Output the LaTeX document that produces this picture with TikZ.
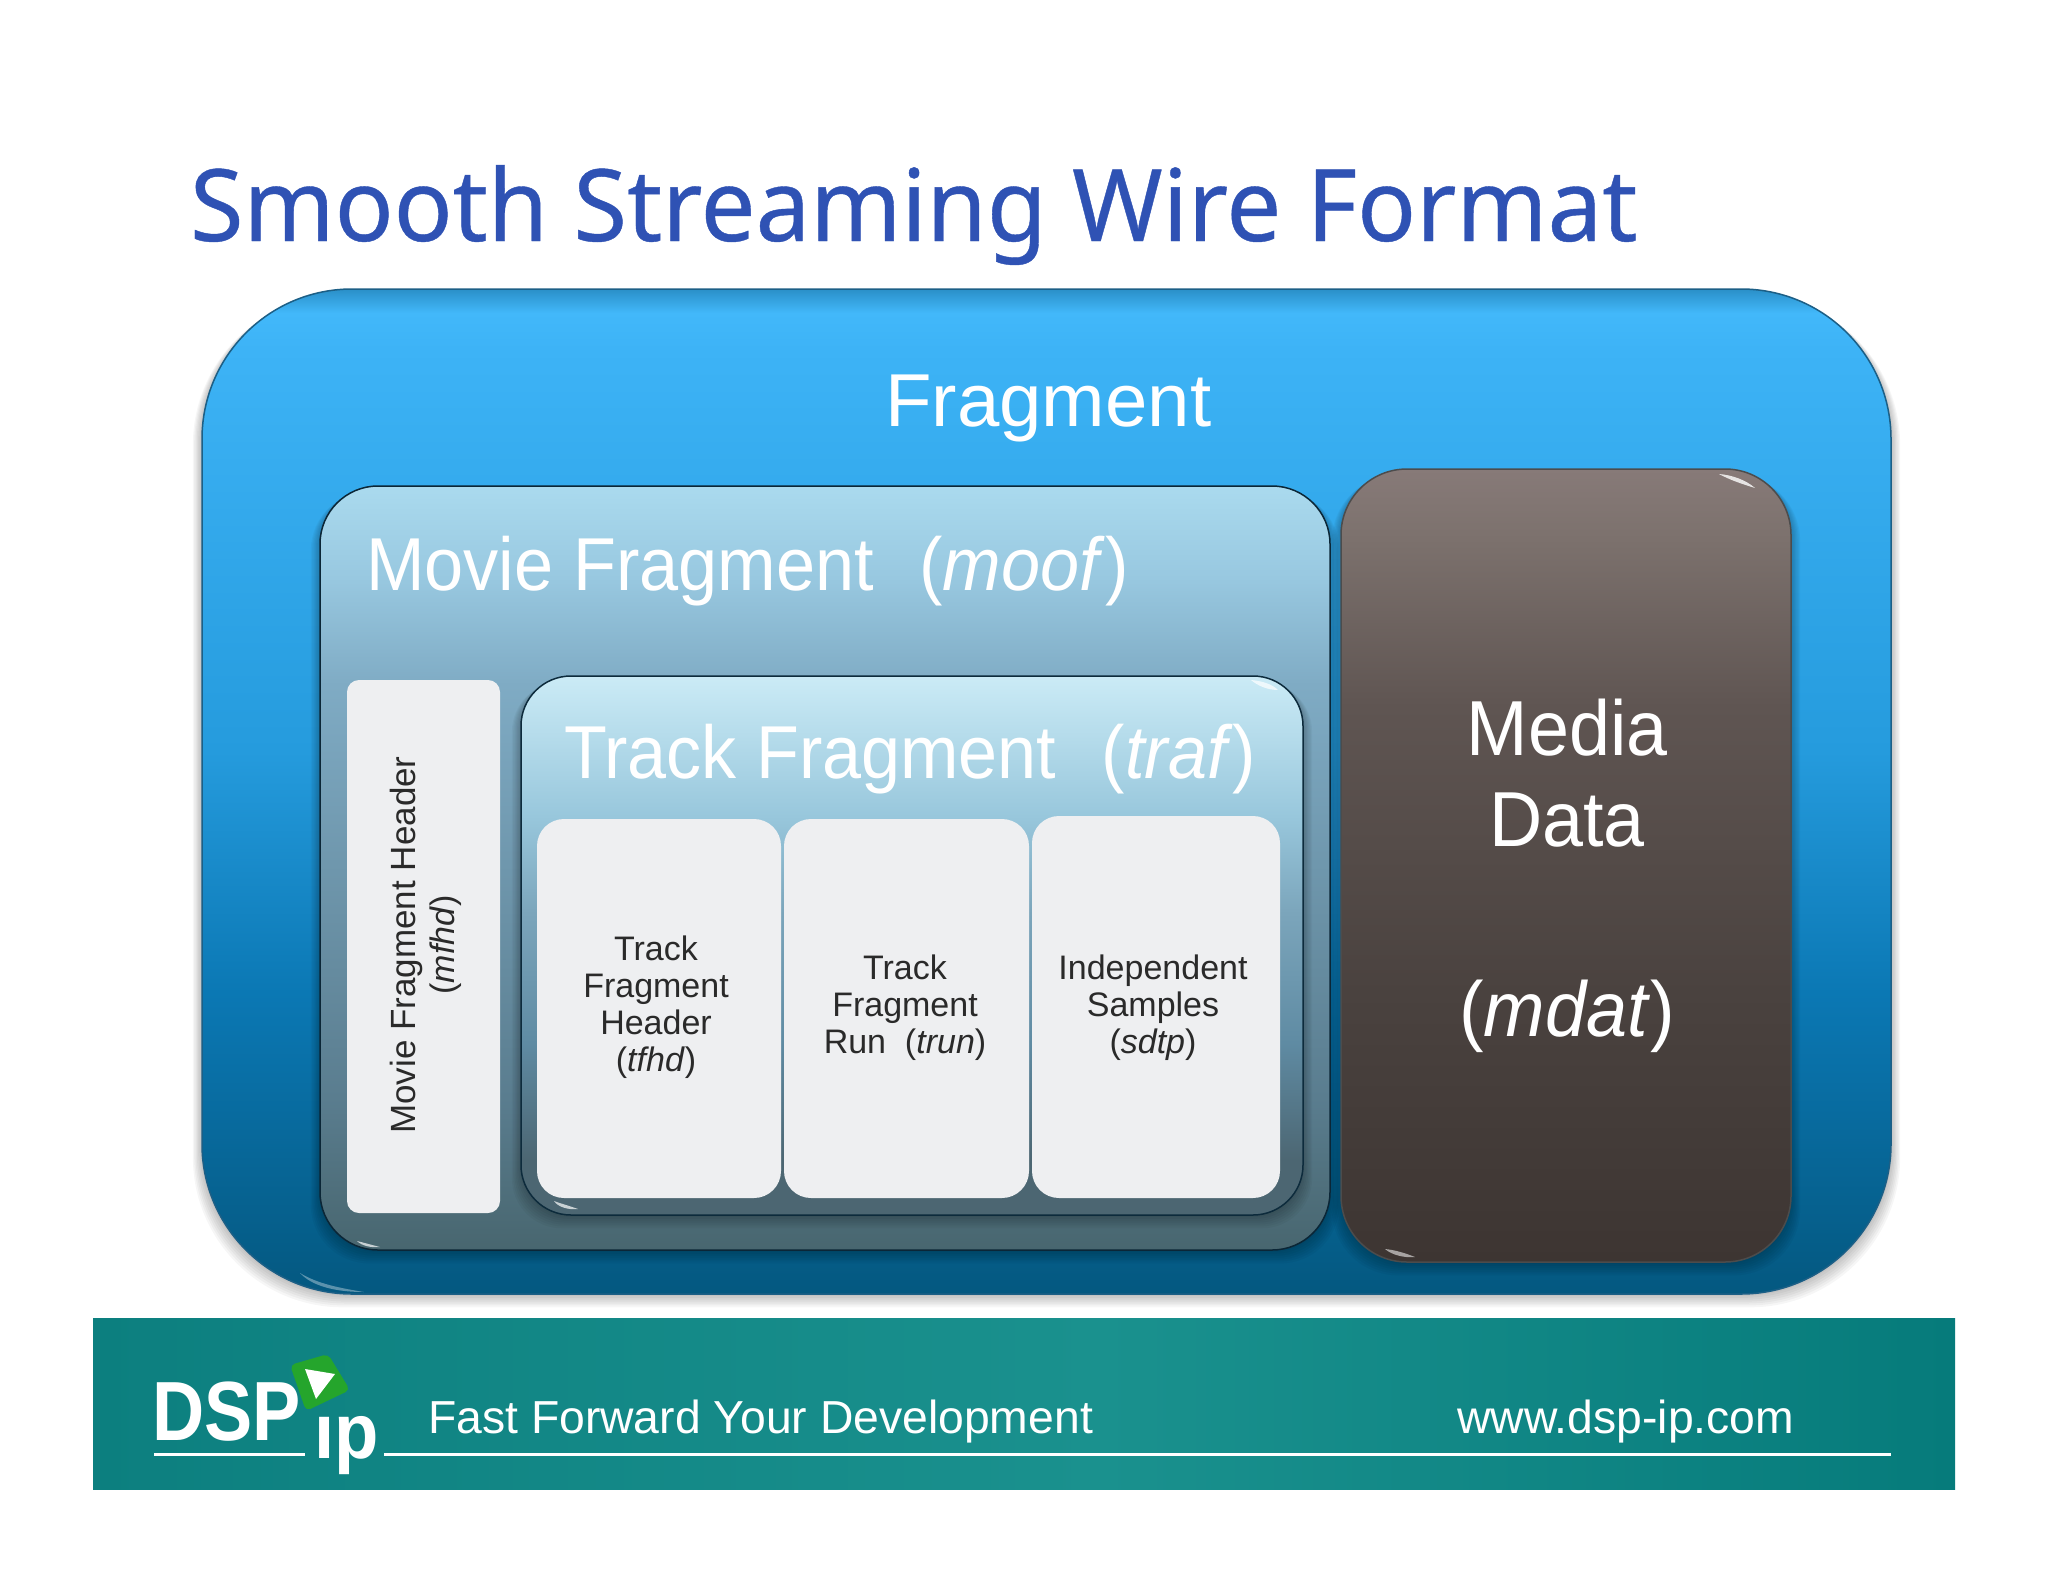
\documentclass[tikz,border=0pt]{standalone}
\usepackage{fontspec}
\setmainfont{Liberation Sans}
\newfontfamily\titlefont[FakeBold=0.4]{Noto Sans}
\usetikzlibrary{calc}
\definecolor{titleblue}{HTML}{2F52B4}
\definecolor{cardfill}{HTML}{EEEFF1}
\definecolor{cardtext}{HTML}{2A2A2A}
\definecolor{edgeblue}{HTML}{1C5F86}
\definecolor{fA}{HTML}{045880}
\definecolor{fB}{HTML}{0B78B4}
\definecolor{fC}{HTML}{259BDD}
\definecolor{fD}{HTML}{3DB3F6}
\definecolor{fE}{HTML}{42B8FA}
\definecolor{fF}{HTML}{2A8FC8}
\pgfdeclareverticalshading{fragshade}{100bp}{color(0bp)=(fA);color(25bp)=(fA);color(40bp)=(fB);color(52bp)=(fC);color(72bp)=(fD);color(73.8bp)=(fE);color(75bp)=(fF);color(100bp)=(fF)}
\definecolor{mA}{HTML}{48666F}
\definecolor{mB}{HTML}{5A7D8F}
\definecolor{mC}{HTML}{7FABC4}
\definecolor{mE}{HTML}{98C8E0}
\definecolor{mD}{HTML}{AADAEE}
\pgfdeclareverticalshading{moofshade}{100bp}{color(0bp)=(mA);color(25bp)=(mA);color(35bp)=(mB);color(62bp)=(mC);color(69bp)=(mE);color(75bp)=(mD);color(100bp)=(mD)}
\definecolor{tA}{HTML}{4C6672}
\definecolor{tB}{HTML}{5F8BA3}
\definecolor{tE}{HTML}{7BA5BB}
\definecolor{tC}{HTML}{98C7DC}
\definecolor{tD}{HTML}{CBEBF6}
\pgfdeclareverticalshading{trafshade}{100bp}{color(0bp)=(tA);color(25bp)=(tA);color(30bp)=(tA);color(41bp)=(tB);color(53bp)=(tE);color(62bp)=(tC);color(75bp)=(tD);color(100bp)=(tD)}
\definecolor{dA}{HTML}{3D3532}
\definecolor{dB}{HTML}{4A423F}
\definecolor{dC}{HTML}{5F5552}
\definecolor{dD}{HTML}{7D726E}
\definecolor{dE}{HTML}{877A78}
\pgfdeclareverticalshading{mdatshade}{100bp}{color(0bp)=(dA);color(25bp)=(dA);color(42bp)=(dB);color(60bp)=(dC);color(71bp)=(dD);color(75bp)=(dE);color(100bp)=(dE)}
\definecolor{bA}{HTML}{0C7F7F}
\definecolor{bB}{HTML}{1A918E}
\definecolor{bC}{HTML}{067B7B}
\pgfdeclarehorizontalshading{bandshade}{100bp}{color(0bp)=(bA);color(25bp)=(bA);color(52bp)=(bB);color(75bp)=(bC);color(100bp)=(bC)}
\definecolor{logogreen}{HTML}{25A52C}
\tikzset{
  x=1pt,y=-1pt,
  panel/.style={rectangle,inner sep=0pt,outer sep=0pt,anchor=north west},
  fragbox/.style={panel,draw=edgeblue,line width=1.5pt,shading=fragshade,rounded corners=150pt},
  moofbox/.style={panel,draw=black!60!edgeblue,line width=1.5pt,shading=moofshade,rounded corners=58pt},
  trafbox/.style={panel,draw=black!55!edgeblue,line width=1.5pt,shading=trafshade,rounded corners=50pt},
  mdatbox/.style={panel,draw=black!70,line width=1.5pt,shading=mdatshade,rounded corners=66pt},
  cardbox/.style={panel,fill=cardfill,rounded corners=27pt},
  bigwhite/.style={text=white,anchor=base west,inner sep=0pt,font=\fontsize{75}{80}\selectfont},
  mdatword/.style={text=white,anchor=base,inner sep=0pt,xscale=0.945,font=\fontsize{78}{80}\selectfont},
  cardlabel/.style={text=cardtext,align=center,inner sep=0pt,font=\fontsize{34}{37}\selectfont},
  sidelabel/.style={text=cardtext,inner sep=0pt,rotate=90,anchor=base,font=\fontsize{35}{37}\selectfont},
  footertext/.style={text=white,anchor=base west,inner sep=0pt,font=\fontsize{46.3}{50}\selectfont},
  logotext/.style={text=white,anchor=base west,inner sep=0pt},
  gleam/.style={fill=white,opacity=0.7},
}
\newcommand{\softshadow}[5]{%
  \foreach \k in {1,...,7}{
    \fill[black,opacity=0.035,rounded corners=#5pt]
      ({#1-\k*1.3},{#2+1+\k*0.7}) rectangle ({#3+\k*1.3},{#4+\k*1.9});
  }}
\begin{document}
\begin{tikzpicture}
\useasboundingbox (0,0) rectangle (2048,1582);
\fill[white] (0,0) rectangle (2048,1582);
\node[panel,text=titleblue,anchor=base west,inner sep=0pt,xscale=0.975,font=\titlefont\fontsize{100}{110}\selectfont] (title) at (190,241) {Smooth Streaming Wire Format};
\softshadow{202}{289}{1891}{1294}{150}
\node[fragbox,minimum width=1689pt,minimum height=1005pt] (fragment) at (202,289) {};
\fill[white,opacity=0.35] (300,1273) .. controls (318,1284) and (340,1288) .. (364,1292) .. controls (335,1292) and (312,1286) .. (300,1273) -- cycle;
\node[bigwhite,xscale=1.016] (fragmentlabel) at (885,426) {Fragment};
\softshadow{320}{486}{1330}{1250}{58}
\node[moofbox,minimum width=1010pt,minimum height=764pt] (moof) at (320,486) {};
\fill[gleam] (357,1241) .. controls (365,1243) and (372,1245) .. (380,1247) .. controls (372,1248) and (362,1246) .. (357,1241) -- cycle;
\node[bigwhite,xscale=0.937] (mooflabel) at (366,590) {Movie Fragment\ \ \hspace{7pt}(\textit{moof})};
\node[cardbox,rounded corners=12pt,minimum width=153pt,minimum height=533pt] (mfhd) at (347,680) {};
\node[sidelabel] (mfhdlabelA) at (415,945) {Movie Fragment Header};
\node[sidelabel,font=\fontsize{34}{37}\selectfont] (mfhdlabelB) at (454,945) {(\textit{mfhd})};
\softshadow{521}{676}{1303}{1215}{50}
\node[trafbox,minimum width=782pt,minimum height=539pt] (traf) at (521,676) {};
\fill[gleam] (1251,680) .. controls (1262,681) and (1272,684) .. (1278,690) .. controls (1268,690) and (1258,686) .. (1251,680) -- cycle;
\fill[gleam] (554,1201) .. controls (562,1204) and (570,1206) .. (578,1209) .. controls (568,1210) and (558,1207) .. (554,1201) -- cycle;
\node[bigwhite,xscale=0.935] (traflabel) at (564,778) {Track Fragment\ \ \hspace{7pt}(\textit{traf})};
\node[cardbox,minimum width=244pt,minimum height=379pt] (tfhd) at (537,819) {};
\node[cardbox,minimum width=245pt,minimum height=379pt] (trun) at (784,819) {};
\node[cardbox,minimum width=248pt,minimum height=382pt] (sdtp) at (1032,816) {};
\node[cardlabel] (tfhdlabel) at (656,1007) {Track\\Fragment\\Header\\(\textit{tfhd})};
\node[cardlabel] (trunlabel) at (905,1008) {Track\\Fragment\\Run\ \ (\textit{trun})};
\node[cardlabel] (sdtplabel) at (1153,1008) {Independent\\Samples\\(\textit{sdtp})};
\softshadow{1341}{469}{1791}{1262}{66}
\node[mdatbox,minimum width=450pt,minimum height=793pt] (mdat) at (1341,469) {};
\fill[gleam,opacity=0.8] (1719,474) .. controls (1732,475) and (1746,480) .. (1755,488) .. controls (1742,484) and (1730,480) .. (1719,474) -- cycle;
\fill[gleam,opacity=0.55] (1385,1249) .. controls (1395,1250) and (1405,1253) .. (1415,1257) .. controls (1404,1258) and (1392,1255) .. (1385,1249) -- cycle;
\node[mdatword] (mediaword) at (1567,755) {Media};
\node[mdatword] (dataword) at (1567,846) {Data};
\node[mdatword] (mdatlabel) at (1567,1036) {(\textit{mdat})};
\node[panel,shading=bandshade,minimum width=1862pt,minimum height=171pt] (band) at (93,1318) {};
\node[footertext] (slogan) at (428,1433) {Fast Forward Your Development};
\node[footertext] (site) at (1457,1433) {www.dsp-ip.com};
\coordinate (ruleAs) at (154,1454);
\coordinate (ruleAe) at (305,1454);
\coordinate (ruleBs) at (384,1454);
\coordinate (ruleBe) at (1891,1454);
\draw[white,line width=3pt] (ruleAs) -- (ruleAe);
\draw[white,line width=3pt] (ruleBs) -- (ruleBe);
\node[logotext,xscale=0.86,font=\bfseries\fontsize{84}{86}\selectfont] (dsp) at (152,1440) {DSP};
\begin{scope}
\clip (310,1415) rectangle (385,1485);
\node[logotext,xscale=0.93,font=\bfseries\fontsize{78}{80}\selectfont] (ip) at (314,1458) {ip};
\end{scope}
\fill[logogreen,rounded corners=5pt] (290,1365) -- (328,1354) -- (350,1390) -- (306,1411) -- cycle;
\fill[white] (305,1369) -- (335,1374) -- (316,1399) -- cycle;
\end{tikzpicture}
\end{document}
